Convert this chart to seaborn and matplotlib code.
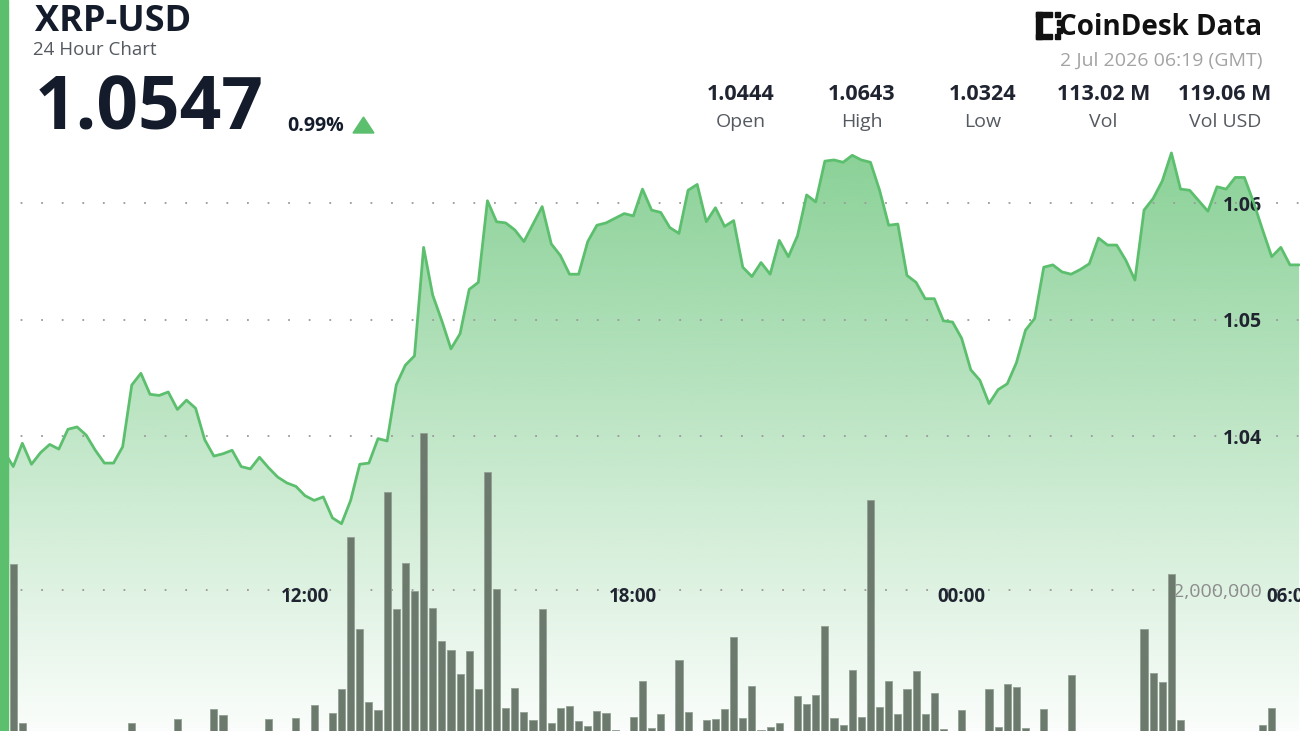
import numpy as np
import pandas as pd
import seaborn as sns
import matplotlib.pyplot as plt
import matplotlib.dates as mdates
from matplotlib.patches import Rectangle, Polygon
from matplotlib.ticker import FixedLocator, FuncFormatter
from matplotlib.colors import to_rgb

sns.set_style("white")
plt.rcParams['font.family'] = ['Open Sans', 'DejaVu Sans']

W, H = 1300, 731
GREEN = '#5cbf6e'
DARK = '#141c2b'

# 10-minute closes, 2026-07-01 06:30 -> 2026-07-02 06:10
start_time = "2026-07-01 06:30"
step = "10min"
price = [
    1.0387, 1.0374, 1.0394, 1.0376, 1.0386, 1.0393, 1.0389, 1.0406, 1.0408, 1.0401,
    1.0388, 1.0377, 1.0377, 1.0391, 1.0444, 1.0454, 1.0436, 1.0435, 1.0438, 1.0423,
    1.0431, 1.0424, 1.0397, 1.0383, 1.0385, 1.0388, 1.0374, 1.0372, 1.0382, 1.0373,
    1.0365, 1.0360, 1.0357, 1.0349, 1.0345, 1.0348, 1.0330, 1.0325, 1.0345, 1.0376,
    1.0377, 1.0398, 1.0396, 1.0444, 1.0461, 1.0469, 1.0562, 1.0521, 1.0499, 1.0475,
    1.0488, 1.0526, 1.0532, 1.0602, 1.0584, 1.0583, 1.0577, 1.0567, 1.0582, 1.0597,
    1.0565, 1.0555, 1.0539, 1.0539, 1.0567, 1.0581, 1.0583, 1.0587, 1.0591, 1.0589,
    1.0612, 1.0594, 1.0592, 1.0579, 1.0574, 1.0611, 1.0616, 1.0584, 1.0596, 1.0580,
    1.0585, 1.0545, 1.0537, 1.0549, 1.0539, 1.0568, 1.0554, 1.0572, 1.0607, 1.0601,
    1.0636, 1.0637, 1.0635, 1.0641, 1.0637, 1.0635, 1.0611, 1.0581, 1.0582, 1.0538,
    1.0532, 1.0518, 1.0518, 1.0499, 1.0498, 1.0484, 1.0457, 1.0448, 1.0428, 1.0440,
    1.0445, 1.0463, 1.0491, 1.0501, 1.0545, 1.0547, 1.0541, 1.0539, 1.0543, 1.0548,
    1.0570, 1.0564, 1.0564, 1.0551, 1.0534, 1.0594, 1.0604, 1.0619, 1.0643, 1.0612,
    1.0611, 1.0602, 1.0593, 1.0614, 1.0612, 1.0622, 1.0622, 1.0601, 1.0577, 1.0554,
    1.0562, 1.0547, 1.0547,
]
# volume per 10 minutes, millions of XRP
volume_m = [
    0, 2.37, 0.11, 0, 0, 0, 0, 0, 0, 0,
    0, 0, 0, 0, 0.12, 0, 0, 0, 0, 0.17,
    0, 0, 0, 0.31, 0.23, 0, 0, 0, 0, 0.165,
    0, 0, 0.18, 0, 0.37, 0, 0.25, 0.59, 2.75, 1.44,
    0.415, 0.295, 3.39, 1.73, 2.39, 1.98, 4.23, 1.75, 1.28, 1.145,
    0.81, 1.135, 0.60, 3.67, 2.01, 0.33, 0.61, 0.27, 0.16, 1.73,
    0.11, 0.33, 0.36, 0.14, 0.065, 0.29, 0.26, 0.02, 0, 0.20,
    0.71, 0.04, 0.245, 0, 1.01, 0.27, 0, 0.16, 0.165, 0.31,
    1.33, 0.185, 0.645, 0.02, 0.06, 0.12, 0, 0.50, 0.38, 0.51,
    1.485, 0.19, 0.08, 0.87, 0.20, 3.27, 0.34, 0.705, 0.245, 0.60,
    0.855, 0.245, 0.54, 0.035, 0, 0.30, 0, 0, 0.60, 0.06,
    0.66, 0.62, 0.045, 0, 0.31, 0, 0, 0.79, 0, 0,
    0, 0, 0, 0, 0, 1.44, 0.82, 0.69, 2.23, 0.16,
    0, 0, 0, 0, 0, 0, 0, 0, 0.085, 0.32,
    0, 0, 0,
]
price_ticks = [1.04, 1.05, 1.06]
volume_ticks = [2_000_000]
tick_hours = [0, 6, 12, 18]

stat_values = ['1.0444', '1.0643', '1.0324', '113.02 M', '119.06 M']
stat_labels = ['Open', 'High', 'Low', 'Vol', 'Vol USD']

times = pd.date_range(start_time, periods=len(price), freq=step)
df = pd.DataFrame({'time': times, 'price': price,
                   'volume': np.array(volume_m) * 1e6})

fig = plt.figure(figsize=(W / 100, H / 100), dpi=100)
fig.patch.set_facecolor('white')
ax = fig.add_axes([0, 0, 1, 1])
ax2 = ax.twinx()

price_lo, price_hi = 1.01472, 1.07742
xlim = (times[0] - pd.Timedelta(minutes=4.5), times[-1] + pd.Timedelta(minutes=1))

sns.lineplot(data=df, x='time', y='price', ax=ax, color=GREEN, linewidth=2.0, zorder=3)

# gradient area under the price line
fill = ax.fill_between(df['time'], df['price'], price_lo, facecolor='none', edgecolor='none')
n = 256
grad = np.zeros((n, 1, 4))
grad[..., :3] = to_rgb(GREEN)
grad[:, 0, 3] = np.linspace(0.03, 0.90, n)
x0, x1 = mdates.date2num(xlim[0]), mdates.date2num(xlim[1])
img = ax.imshow(grad, extent=[x0, x1, price_lo, price_hi], origin='lower',
                aspect='auto', interpolation='bilinear', zorder=0.2)
img.set_clip_path(fill.get_paths()[0], ax.transData)

ax.set_xlim(xlim)
ax.set_ylim(price_lo, price_hi)

# volume bars
vol = df[df['volume'] > 0]
ax2.bar(vol['time'], vol['volume'], width=pd.Timedelta(minutes=7.8),
        color='#6b7a6c', edgecolor='#93a094', linewidth=0.6, zorder=2)
ax2.set_ylim(0, 2e6 * H / 141)
ax2.set_xlim(xlim)

grid_style = dict(color='#9a9a9a', linestyle=(0, (1, 10.4)), linewidth=1.3)
ax.set_axisbelow(True)
ax2.set_axisbelow(True)
ax.yaxis.set_major_locator(FixedLocator(price_ticks))
ax.yaxis.set_major_formatter(FuncFormatter(lambda v, _: f'{v:.2f}'))
ax.grid(axis='y', **grid_style)
ax.grid(axis='x', visible=False)
ax2.yaxis.set_major_locator(FixedLocator(volume_ticks))
ax2.yaxis.set_major_formatter(FuncFormatter(lambda v, _: f'{v:,.0f}'))
ax2.grid(axis='y', **grid_style)

ax.yaxis.tick_right()
ax.tick_params(axis='y', length=0, pad=-27.4, labelsize=14, labelcolor='#1f2430')
ax2.tick_params(axis='y', length=0, pad=-27.4, labelsize=14, labelcolor='#8c8c8c')

ax.xaxis.set_major_locator(mdates.HourLocator(byhour=tick_hours))
ax.xaxis.set_major_formatter(mdates.DateFormatter('%H:%M'))
ax.spines['bottom'].set_position(('axes', (H - 563) / H))
ax.tick_params(axis='x', length=1.5, width=1.6, color='#333333', pad=15.5,
               labelsize=13.5, labelcolor='#1f2430')

for a in (ax, ax2):
    for s in a.spines.values():
        s.set_color('none')
    a.set_xlabel('')
    a.set_ylabel('')

plt.setp(ax.get_yticklabels(), ha='right', fontweight='bold')
plt.setp(ax2.get_yticklabels(), ha='right')
plt.setp(ax.get_xticklabels(), fontweight='bold')


def fx(x):
    return x / W


def fy(y):
    return 1 - y / H


# header, left
fig.text(fx(35), fy(31), 'XRP-USD', fontsize=26, fontweight='bold', color=DARK, va='baseline')
fig.text(fx(33), fy(55), '24 Hour Chart', fontsize=13.5, color='#555a60', va='baseline')
fig.text(fx(35), fy(129), '1.0547', fontsize=52.5, fontweight='bold', color=DARK, va='baseline')
fig.text(fx(287), fy(131), '0.99%', fontsize=14, fontweight='bold', color=DARK, va='baseline')
fig.add_artist(Polygon([(fx(353), fy(133)), (fx(374), fy(133)), (fx(363.5), fy(117))],
                       closed=True, transform=fig.transFigure, color=GREEN))

# header, right
fig.text(fx(1262), fy(35), 'CoinDesk Data', fontsize=20, fontweight='bold', color='#111111',
         ha='right', va='baseline')
for (x, y, w, h) in [(1036, 12, 6, 27), (1036, 12, 16, 5), (1036, 34, 16, 5),
                     (1055, 12, 5, 5), (1055, 34, 5, 5), (1057, 20, 5, 5), (1057, 28, 5, 5)]:
    fig.add_artist(Rectangle((fx(x), fy(y + h)), w / W, h / H, transform=fig.transFigure,
                             color='#111111'))
fig.text(fx(1262), fy(66), '2 Jul 2026 06:19 (GMT)', fontsize=14, color='#a3a3a3',
         ha='right', va='baseline')

stat_centers = [740.5, 861.5, 983, 1103.5, 1225]
for cx, v, lab in zip(stat_centers, stat_values, stat_labels):
    fig.text(fx(cx), fy(100), v, fontsize=15.5, fontweight='bold', color='#1f2430',
             ha='center', va='baseline')
    fig.text(fx(cx), fy(127), lab, fontsize=14, color='#555a60', ha='center', va='baseline')

# green accent stripe on the left edge
fig.add_artist(Rectangle((0, 0), 8 / W, 1, transform=fig.transFigure, color=GREEN, zorder=10))

fig.savefig('out.png', dpi=100, facecolor='white')
